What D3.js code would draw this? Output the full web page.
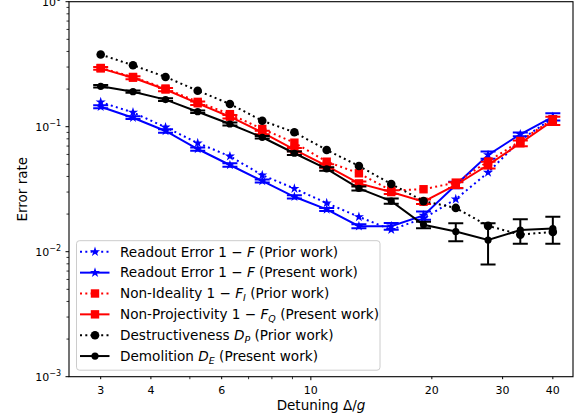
<!DOCTYPE html>
<html>
<head>
<meta charset="utf-8">
<script src="https://cdn.jsdelivr.net/npm/d3@7"></script>
<style>
  html, body { margin: 0; padding: 0; background: #fff; }
  svg { display: block; font-family: "DejaVu Sans", sans-serif; }
</style>
</head>
<body>
<svg id="chart" width="584" height="419"></svg>
<script>
// ---------------- data ----------------
const detuning = [3, 3.61, 4.35, 5.23, 6.29, 7.57, 9.10, 10.95, 13.17, 15.85, 19.07, 22.94, 27.6, 33.2, 40];

const readoutPrior   = [0.157, 0.130, 0.099, 0.074, 0.058, 0.041, 0.032, 0.0245, 0.019, 0.015, 0.0185, 0.0263, 0.043, 0.078, 0.117];
const readoutPresent = [0.1445, 0.118, 0.0924, 0.0663, 0.0494, 0.0368, 0.0275, 0.0218, 0.0160, 0.0160, 0.0195, 0.0342, 0.0594, 0.087, 0.120];
const readoutErr     = [0.004, 0.003, 0.003, 0.002, 0.0015, 0.001, 0.0008, 0.0006, 0.0006, 0.001, 0.0015, 0.002, 0.004, 0.003, 0.008];

const idealityPrior  = [0.295, 0.250, 0.202, 0.158, 0.126, 0.096, 0.0745, 0.0525, 0.0424, 0.0309, 0.0316, 0.0357, 0.0527, 0.0769, 0.1147];
const projPresent    = [0.293, 0.2466, 0.1984, 0.1539, 0.1202, 0.090, 0.0655, 0.0485, 0.0352, 0.0300, 0.0251, 0.0342, 0.0494, 0.0737, 0.1117];
const projErr        = [0.008, 0.007, 0.006, 0.005, 0.004, 0.003, 0.002, 0.0015, 0.0012, 0.001, 0.001, 0.0018, 0.003, 0.004, 0.0085];

const destructPrior  = [0.378, 0.310, 0.250, 0.194, 0.152, 0.1117, 0.0902, 0.0651, 0.0485, 0.0348, 0.0254, 0.0224, 0.0161, 0.0137, 0.0144];
const demolPresent   = [0.2104, 0.1905, 0.1647, 0.1318, 0.1051, 0.0823, 0.0613, 0.0459, 0.0321, 0.0254, 0.0164, 0.0145, 0.0124, 0.0149, 0.0153];
const demolErr       = [0.005, 0.004, 0.004, 0.003, 0.003, 0.002, 0.002, 0.0015, 0.0012, 0.0012, 0.001, 0.0024, 0.0045, 0.0033, 0.0037];

const xTickLabels = [3, 4, 6, 10, 20, 30, 40];
const xMinorTicks = [5, 7, 8, 9];
const yMajorTicks = [1e-3, 1e-2, 1e-1, 1];
const yTickExponents = ["−3", "−2", "−1", "0"];

// ---------------- layout ----------------
const L = 69, R = 573, T = 1.7, B = 376.7;
const svg = d3.select("#chart");
const x = d3.scaleLog().domain([2.502, 44.9]).range([L, R]);
const y = d3.scaleLog().domain([1e-3, 1]).range([B, T]);

const series = [
  { label: [["Readout Error 1 − ", false], ["F", true], [" (Prior work)", false]],
    vals: readoutPrior, err: null, color: "#0000ff", dotted: true, marker: "star" },
  { label: [["Readout Error 1 − ", false], ["F", true], [" (Present work)", false]],
    vals: readoutPresent, err: readoutErr, color: "#0000ff", dotted: false, marker: "star" },
  { label: [["Non-Ideality 1 − ", false], ["F", true], ["I", true, "sub"], [" (Prior work)", false]],
    vals: idealityPrior, err: null, color: "#ff0000", dotted: true, marker: "square" },
  { label: [["Non-Projectivity 1 − ", false], ["F", true], ["Q", true, "sub"], [" (Present work)", false]],
    vals: projPresent, err: projErr, color: "#ff0000", dotted: false, marker: "square" },
  { label: [["Destructiveness ", false], ["D", true], ["P", true, "sub"], [" (Prior work)", false]],
    vals: destructPrior, err: null, color: "#000000", dotted: true, marker: "circleBig" },
  { label: [["Demolition ", false], ["D", true], ["E", true, "sub"], [" (Present work)", false]],
    vals: demolPresent, err: demolErr, color: "#000000", dotted: false, marker: "circle" }
];

function drawMarker(g, type, cx, cy, color) {
  if (type === "star") {
    g.append("path").attr("d", d3.symbol().type(d3.symbolStar).size(32)())
      .attr("transform", `translate(${cx},${cy})`).attr("fill", color);
  } else if (type === "square") {
    g.append("rect").attr("x", cx - 4.2).attr("y", cy - 4.2).attr("width", 8.4).attr("height", 8.4).attr("fill", color);
  } else if (type === "circleBig") {
    g.append("circle").attr("cx", cx).attr("cy", cy).attr("r", 4.3).attr("fill", color);
  } else {
    g.append("circle").attr("cx", cx).attr("cy", cy).attr("r", 3.6).attr("fill", color);
  }
}

// ---------------- clip ----------------
svg.append("defs").append("clipPath").attr("id", "clip")
  .append("rect").attr("x", L).attr("y", T).attr("width", R - L).attr("height", B - T);

const plot = svg.append("g").attr("clip-path", "url(#clip)");
const line = d3.line().x((d, i) => x(detuning[i])).y(d => y(d));

series.forEach(s => {
  const g = plot.append("g");
  if (s.err) {
    s.vals.forEach((v, i) => {
      const cx = x(detuning[i]);
      const y1 = y(v + s.err[i]), y2 = y(Math.max(v - s.err[i], 1e-6));
      g.append("line").attr("x1", cx).attr("x2", cx).attr("y1", y1).attr("y2", y2)
        .attr("stroke", s.color).attr("stroke-width", 2);
      [y1, y2].forEach(yy => g.append("line").attr("x1", cx - 7.5).attr("x2", cx + 7.5)
        .attr("y1", yy).attr("y2", yy).attr("stroke", s.color).attr("stroke-width", 2));
    });
  }
  g.append("path").datum(s.vals).attr("d", line).attr("fill", "none")
    .attr("stroke", s.color).attr("stroke-width", 2)
    .attr("stroke-dasharray", s.dotted ? "2,3.3" : null);
  s.vals.forEach((v, i) => drawMarker(g, s.marker, x(detuning[i]), y(v), s.color));
});

// ---------------- axes ----------------
const axes = svg.append("g").attr("stroke", "#000");
axes.append("rect").attr("x", L).attr("y", T).attr("width", R - L).attr("height", B - T)
  .attr("fill", "none").attr("stroke-width", 1.1);

// x ticks
xTickLabels.forEach(v => {
  const px = x(v);
  const major = v === 10;
  axes.append("line").attr("x1", px).attr("x2", px).attr("y1", B).attr("y2", B + (major ? 3.5 : 2.5)).attr("stroke-width", 1);
  svg.append("text").attr("x", px).attr("y", 393.5).attr("text-anchor", "middle")
    .attr("font-size", 11).attr("fill", "#000").text(v);
});
xMinorTicks.forEach(v => {
  const px = x(v);
  axes.append("line").attr("x1", px).attr("x2", px).attr("y1", B).attr("y2", B + 2.5).attr("stroke-width", 0.8);
});

// y ticks
yMajorTicks.forEach((v, k) => {
  const py = y(v);
  axes.append("line").attr("x1", L).attr("x2", L - 3.5).attr("y1", py).attr("y2", py).attr("stroke-width", 1);
  const t = svg.append("text").attr("x", 61).attr("y", py + 4).attr("text-anchor", "end")
    .attr("font-size", 11).attr("fill", "#000");
  t.append("tspan").text("10");
  t.append("tspan").attr("dy", -5).attr("font-size", 8).text(yTickExponents[k]);
  if (k < yMajorTicks.length - 1) {
    for (let m = 2; m <= 9; m++) {
      const pm = y(v * m);
      axes.append("line").attr("x1", L).attr("x2", L - 2.5).attr("y1", pm).attr("y2", pm).attr("stroke-width", 0.8);
    }
  }
});

// axis labels
const xl = svg.append("text").attr("x", (L + R) / 2).attr("y", 410).attr("text-anchor", "middle")
  .attr("font-size", 13.5).attr("fill", "#000");
xl.append("tspan").text("Detuning Δ/");
xl.append("tspan").attr("font-style", "italic").text("g");

svg.append("text").attr("transform", `translate(27,${(T + B) / 2}) rotate(-90)`)
  .attr("text-anchor", "middle").attr("font-size", 13.5).attr("fill", "#000").text("Error rate");

// ---------------- legend ----------------
const lg = svg.append("g");
lg.append("rect").attr("x", 76.5).attr("y", 240.7).attr("width", 303.5).attr("height", 129.5)
  .attr("rx", 3).attr("fill", "#fff").attr("fill-opacity", 0.8).attr("stroke", "#cccccc").attr("stroke-width", 1);
series.forEach((s, i) => {
  const cy = 251.8 + i * 20.85;
  lg.append("line").attr("x1", 80).attr("x2", 109.5).attr("y1", cy).attr("y2", cy)
    .attr("stroke", s.color).attr("stroke-width", 2).attr("stroke-dasharray", s.dotted ? "2,3.3" : null);
  drawMarker(lg, s.marker, 95, cy, s.color);
  const t = lg.append("text").attr("x", 120).attr("y", cy + 4.8).attr("font-size", 13.6).attr("fill", "#000");
  let prevSub = false;
  s.label.forEach(part => {
    const ts = t.append("tspan").text(part[0]);
    if (part[1]) ts.attr("font-style", "italic");
    if (part[2] === "sub") { ts.attr("font-size", 9.5).attr("dy", 3); prevSub = true; }
    else if (prevSub) { ts.attr("dy", -3); prevSub = false; }
  });
});
</script>
</body>
</html>
